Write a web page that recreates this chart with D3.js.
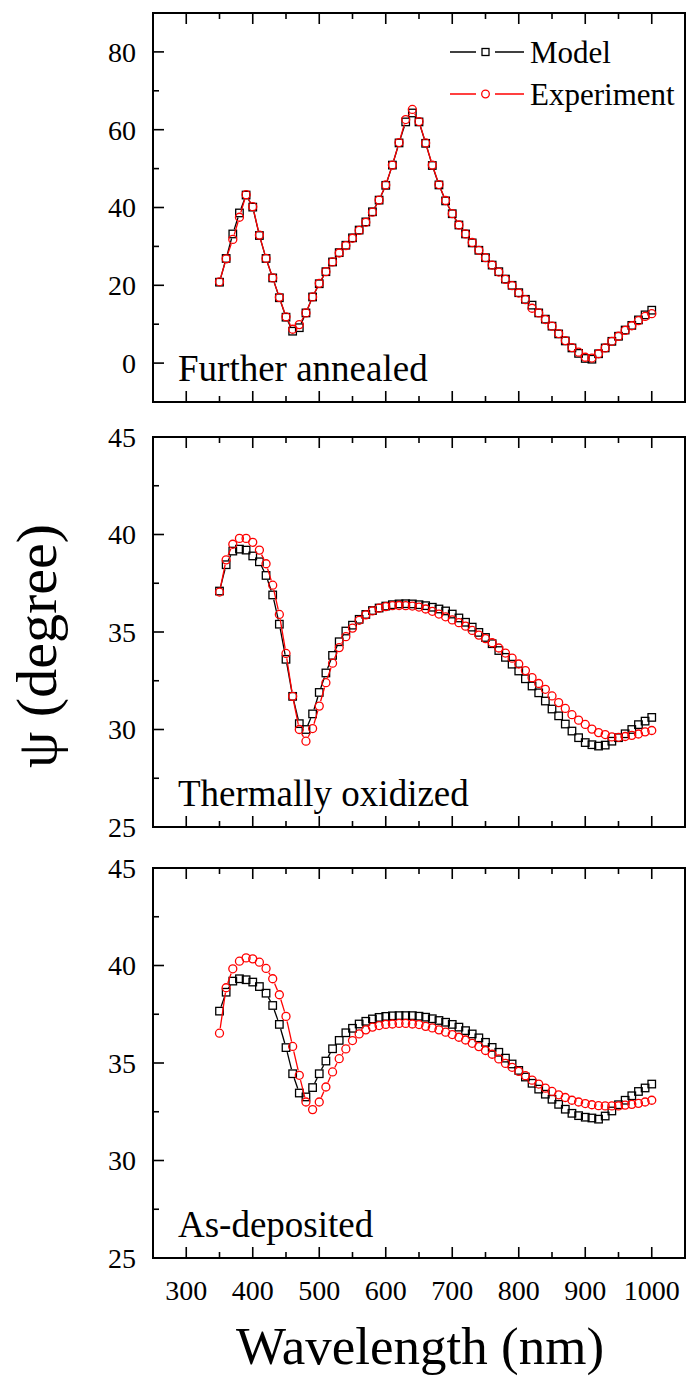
<!DOCTYPE html>
<html>
<head>
<meta charset="utf-8">
<script src="https://cdn.jsdelivr.net/npm/d3@7"></script>
<style>
  body { margin: 0; background: #fff; }
  svg { display: block; }
</style>
</head>
<body>
<svg id="chart" width="689" height="1376"></svg>
<script>
// Wavelength grid (nm)
var wavelength = [350, 360, 370, 380, 390, 400, 410, 420, 430, 440, 450, 460, 470, 480, 490, 500, 510, 520, 530, 540,
    550, 560, 570, 580, 590, 600, 610, 620, 630, 640, 650, 660, 670, 680, 690, 700, 710, 720, 730, 740,
    750, 760, 770, 780, 790, 800, 810, 820, 830, 840, 850, 860, 870, 880, 890, 900, 910, 920, 930, 940,
    950, 960, 970, 980, 990, 1000];

// Further annealed
var annealedModel = [20.8, 26.9, 33.2, 38.6, 43.2, 40.1, 32.8, 26.9, 21.9, 16.8, 11.8, 8.2, 9.1, 12.9, 17.0, 20.4, 23.5, 26.0, 28.4, 30.3,
    32.2, 34.2, 36.3, 38.9, 41.9, 45.7, 50.9, 56.6, 62.0, 64.3, 62.0, 56.5, 50.8, 45.8, 41.7, 38.4, 35.5, 33.2, 30.9, 29.0,
    27.1, 25.2, 23.5, 21.6, 20.0, 18.1, 16.4, 14.9, 12.9, 11.3, 9.5, 7.5, 5.7, 3.9, 2.5, 1.2, 1.0, 2.4, 3.9, 5.6,
    6.9, 8.5, 9.7, 11.1, 12.4, 13.6];
var annealedExp = [20.9, 26.8, 31.8, 37.5, 43.3, 40.2, 32.9, 26.9, 21.9, 16.9, 11.9, 8.7, 9.9, 12.9, 17.0, 20.5, 23.5, 26.0, 28.3, 30.2,
    32.1, 34.1, 36.2, 38.8, 41.9, 45.8, 50.9, 56.7, 62.6, 65.2, 62.1, 56.6, 50.9, 45.9, 41.8, 38.4, 35.5, 33.2, 31.0, 29.0,
    27.1, 25.2, 23.4, 21.5, 19.9, 18.0, 16.3, 14.1, 12.9, 11.2, 9.5, 7.6, 5.8, 4.0, 2.8, 1.5, 1.3, 2.4, 3.9, 5.6,
    6.9, 8.4, 9.6, 10.9, 12.0, 12.7];

// Thermally oxidized
var oxidizedModel = [37.1, 38.45, 39.15, 39.25, 39.2, 38.9, 38.6, 37.9, 36.9, 35.4, 33.6, 31.7, 30.3, 30.0, 30.8, 31.9, 32.9, 33.8, 34.5, 35.05,
    35.35, 35.65, 35.9, 36.1, 36.23, 36.33, 36.4, 36.44, 36.45, 36.44, 36.4, 36.35, 36.27, 36.18, 36.08, 35.92, 35.72, 35.5, 35.25, 34.98,
    34.72, 34.4, 34.05, 33.7, 33.35, 33.0, 32.6, 32.23, 31.88, 31.46, 31.05, 30.7, 30.28, 29.92, 29.58, 29.33, 29.22, 29.15, 29.2, 29.4,
    29.58, 29.78, 30.0, 30.25, 30.43, 30.62];
var oxidizedExp = [37.05, 38.7, 39.5, 39.8, 39.8, 39.6, 39.2, 38.5, 37.4, 35.9, 33.9, 31.7, 30.0, 29.4, 30.05, 31.2, 32.4, 33.4, 34.2, 34.76,
    35.2, 35.6, 35.88, 36.08, 36.22, 36.3, 36.35, 36.36, 36.35, 36.33, 36.28, 36.18, 36.06, 35.92, 35.78, 35.62, 35.48, 35.3, 35.08, 34.84,
    34.66, 34.45, 34.18, 33.92, 33.66, 33.36, 33.02, 32.66, 32.36, 32.06, 31.72, 31.38, 31.08, 30.76, 30.48, 30.26, 30.02, 29.84, 29.74, 29.62,
    29.6, 29.64, 29.7, 29.77, 29.88, 29.95];

// As-deposited
var depositedModel = [37.66, 38.63, 39.2, 39.32, 39.27, 39.15, 38.92, 38.58, 37.95, 36.98, 35.79, 34.45, 33.46, 33.26, 33.74, 34.45, 35.1, 35.73, 36.16, 36.55,
    36.78, 37.0, 37.14, 37.26, 37.34, 37.39, 37.42, 37.43, 37.43, 37.43, 37.4, 37.35, 37.27, 37.18, 37.09, 36.98, 36.84, 36.66, 36.49, 36.29,
    36.06, 35.8, 35.55, 35.25, 34.95, 34.62, 34.28, 33.96, 33.66, 33.4, 33.14, 32.88, 32.63, 32.42, 32.3, 32.22, 32.18, 32.12, 32.28, 32.54,
    32.86, 33.09, 33.32, 33.54, 33.72, 33.92];
var depositedExp = [36.53, 38.86, 39.83, 40.22, 40.39, 40.34, 40.17, 39.85, 39.32, 38.5, 37.39, 35.85, 34.37, 33.0, 32.61, 33.0, 33.77, 34.54, 35.22, 35.72,
    36.15, 36.49, 36.7, 36.84, 36.92, 36.98, 37.0, 37.03, 37.03, 37.0, 36.97, 36.88, 36.8, 36.7, 36.58, 36.46, 36.32, 36.18, 36.01, 35.84,
    35.64, 35.45, 35.21, 34.98, 34.78, 34.57, 34.35, 34.12, 33.92, 33.71, 33.54, 33.37, 33.23, 33.09, 33.0, 32.92, 32.86, 32.81, 32.8, 32.8,
    32.8, 32.84, 32.88, 32.93, 33.0, 33.09];

// Tick values
var xMajorTicks = [300, 400, 500, 600, 700, 800, 900, 1000];
var xMinorTicks = [350, 450, 550, 650, 750, 850, 950];
var annealedTicks = [0, 20, 40, 60, 80];
var annealedMinor = [10, 30, 50, 70];
var psiTicks = [25, 30, 35, 40, 45];
var psiMinor = [27.5, 32.5, 37.5, 42.5];

var svg = d3.select("#chart");
var serif = "Liberation Serif";

var left = 153, right = 685;
var x = d3.scaleLinear().domain([250, 1050]).range([left, right]);

var panels = [
    { label: "Further annealed", top: 13, bottom: 402, domain: [-10, 90], ticks: annealedTicks, minor: annealedMinor, model: annealedModel, exp: annealedExp, legend: true },
    { label: "Thermally oxidized", top: 437, bottom: 827, domain: [25, 45], ticks: psiTicks, minor: psiMinor, model: oxidizedModel, exp: oxidizedExp },
    { label: "As-deposited", top: 868, bottom: 1258, domain: [25, 45], ticks: psiTicks, minor: psiMinor, model: depositedModel, exp: depositedExp }
];

var sqSize = 7.5, circR = 4;
var majorLen = 11, minorLen = 6;

// draws segments between neighbours, leaving a gap at each marker
function drawGappedLine(g, pts, color, gap) {
    for (var i = 0; i < pts.length - 1; i++) {
        var p = pts[i], q = pts[i + 1];
        var dx = q[0] - p[0], dy = q[1] - p[1];
        var len = Math.sqrt(dx * dx + dy * dy);
        if (len <= 2 * gap) continue;
        var ux = dx / len, uy = dy / len;
        g.append("line")
            .attr("x1", p[0] + ux * gap).attr("y1", p[1] + uy * gap)
            .attr("x2", q[0] - ux * gap).attr("y2", q[1] - uy * gap)
            .attr("stroke", color)
            .attr("stroke-width", 1.3);
    }
}

panels.forEach(function (p) {
    var y = d3.scaleLinear().domain(p.domain).range([p.bottom, p.top]);
    var g = svg.append("g");

    // bottom + top tick marks (inward)
    xMajorTicks.concat(xMinorTicks).forEach(function (t) {
        var len = xMajorTicks.indexOf(t) >= 0 ? majorLen : minorLen;
        g.append("line").attr("x1", x(t)).attr("x2", x(t))
            .attr("y1", p.bottom).attr("y2", p.bottom - len)
            .attr("stroke", "#000").attr("stroke-width", 1.6);
        g.append("line").attr("x1", x(t)).attr("x2", x(t))
            .attr("y1", p.top).attr("y2", p.top + len)
            .attr("stroke", "#000").attr("stroke-width", 1.6);
    });

    // left tick marks
    p.ticks.concat(p.minor).forEach(function (t) {
        var len = p.ticks.indexOf(t) >= 0 ? majorLen : minorLen;
        g.append("line").attr("x1", left).attr("x2", left + len)
            .attr("y1", y(t)).attr("y2", y(t))
            .attr("stroke", "#000").attr("stroke-width", 1.6);
    });

    // y tick labels
    g.selectAll(".ylab")
        .data(p.ticks)
        .enter()
        .append("text")
        .attr("x", 136)
        .attr("y", function (d) { return y(d); })
        .attr("dy", "0.35em")
        .attr("text-anchor", "end")
        .style("font-family", serif)
        .style("font-size", "28px")
        .text(function (d) { return d; });

    // frame
    g.append("rect")
        .attr("x", left).attr("y", p.top)
        .attr("width", right - left).attr("height", p.bottom - p.top)
        .attr("fill", "none").attr("stroke", "#000").attr("stroke-width", 2);

    var modelPts = wavelength.map(function (w, i) { return [x(w), y(p.model[i])]; });
    var expPts = wavelength.map(function (w, i) { return [x(w), y(p.exp[i])]; });

    // Model: black squares
    drawGappedLine(g, modelPts, "#000", sqSize / 2 + 1);
    g.selectAll(".sq")
        .data(modelPts)
        .enter()
        .append("rect")
        .attr("x", function (d) { return d[0] - sqSize / 2; })
        .attr("y", function (d) { return d[1] - sqSize / 2; })
        .attr("width", sqSize).attr("height", sqSize)
        .attr("fill", "none").attr("stroke", "#000").attr("stroke-width", 1.3);

    // Experiment: red circles
    drawGappedLine(g, expPts, "#ff0000", circR + 1);
    g.selectAll(".ci")
        .data(expPts)
        .enter()
        .append("circle")
        .attr("cx", function (d) { return d[0]; })
        .attr("cy", function (d) { return d[1]; })
        .attr("r", circR)
        .attr("fill", "none").attr("stroke", "#ff0000").attr("stroke-width", 1.3);

    // panel label
    g.append("text")
        .attr("x", 178).attr("y", p.bottom - 21)
        .style("font-family", serif)
        .style("font-size", "37px")
        .text(p.label);

    if (p.legend) {
        var items = [
            { name: "Model", color: "#000", shape: "square", yy: 52 },
            { name: "Experiment", color: "#ff0000", shape: "circle", yy: 94 }
        ];
        items.forEach(function (it) {
            g.append("line").attr("x1", 450).attr("x2", 476).attr("y1", it.yy).attr("y2", it.yy)
                .attr("stroke", it.color).attr("stroke-width", 1.5);
            g.append("line").attr("x1", 495).attr("x2", 524).attr("y1", it.yy).attr("y2", it.yy)
                .attr("stroke", it.color).attr("stroke-width", 1.5);
            if (it.shape === "square") {
                g.append("rect").attr("x", 485.5 - 3.5).attr("y", it.yy - 3.5).attr("width", 7).attr("height", 7)
                    .attr("fill", "none").attr("stroke", it.color).attr("stroke-width", 1.3);
            } else {
                g.append("circle").attr("cx", 485.5).attr("cy", it.yy).attr("r", 3.8)
                    .attr("fill", "none").attr("stroke", it.color).attr("stroke-width", 1.3);
            }
            g.append("text").attr("x", 530).attr("y", it.yy).attr("dy", "0.35em")
                .style("font-family", serif)
                .style("font-size", "31px").text(it.name);
        });
    }
});

// x tick labels (bottom panel only)
svg.selectAll(".xlab")
    .data(xMajorTicks)
    .enter()
    .append("text")
    .attr("x", function (d) { return x(d); })
    .attr("y", 1300)
    .attr("text-anchor", "middle")
    .style("font-family", serif)
    .style("font-size", "28px")
    .text(function (d) { return d; });

// axis titles
svg.append("text")
    .attr("x", 420).attr("y", 1364)
    .attr("text-anchor", "middle")
    .style("font-family", serif)
    .style("font-size", "53px")
    .text("Wavelength (nm)");

svg.append("text")
    .attr("transform", "translate(56,646) rotate(-90)")
    .attr("text-anchor", "middle")
    .style("font-family", serif)
    .style("font-size", "58px")
    .text("ψ (degree)");
</script>
</body>
</html>
